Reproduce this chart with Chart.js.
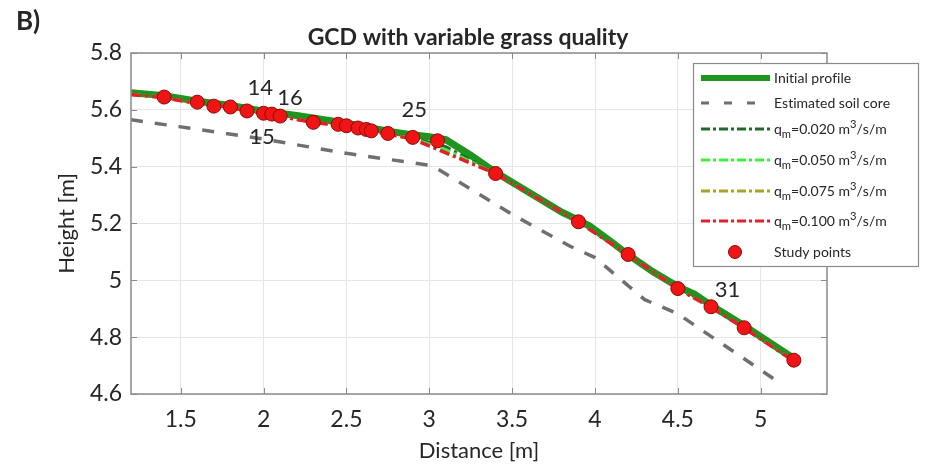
<!DOCTYPE html>
<html lang="en">
<head>
    <meta charset="UTF-8">
    <title>GCD with variable grass quality</title>
    <script src="https://cdn.jsdelivr.net/npm/chart.js@4.4.3/dist/chart.umd.min.js"></script>
    <style>
        body { margin: 0; background: #ffffff; }
        #wrap { width: 926px; height: 467px; }
    </style>
</head>
<body>
    <div id="wrap"><canvas id="profileChart" width="926" height="467"></canvas></div>
    <script>
        // axis ticks
        const xTicks = [1.5, 2, 2.5, 3, 3.5, 4, 4.5, 5];
        const yTicks = [4.6, 4.8, 5, 5.2, 5.4, 5.6, 5.8];

        // initial profile (green)
        const initX = [1.2, 1.4, 1.6, 1.8, 2.0, 2.2, 2.5, 2.75, 2.9, 3.0, 3.1, 3.25, 3.4, 3.6, 3.8, 3.9, 3.97, 4.1, 4.2, 4.35, 4.5, 4.6, 4.7, 4.9, 5.2];
        const initY = [5.66, 5.65, 5.63, 5.615, 5.595, 5.58, 5.553, 5.525, 5.512, 5.505, 5.495, 5.44, 5.38, 5.31, 5.24, 5.212, 5.19, 5.135, 5.09, 5.03, 4.978, 4.952, 4.912, 4.84, 4.725];

        // estimated soil core (grey dashed)
        const soilX = [1.2, 1.5, 2.0, 2.5, 3.0, 3.05, 3.5, 3.85, 4.0, 4.3, 4.5, 5.1];
        const soilY = [5.565, 5.54, 5.497, 5.447, 5.405, 5.392, 5.232, 5.12, 5.08, 4.932, 4.882, 4.645];

        // modelled profiles for each overtopping discharge
        const q020X = [1.2, 1.4, 1.6, 1.8, 2.0, 2.1, 2.3, 2.5, 2.75, 2.9, 3.1, 3.4, 3.9, 4.2, 4.5, 4.7, 4.9, 5.2];
        const q020Y = [5.657, 5.645, 5.624, 5.61, 5.588, 5.578, 5.556, 5.544, 5.516, 5.502, 5.47, 5.377, 5.207, 5.091, 4.972, 4.907, 4.833, 4.718];
        const q050X = [1.2, 1.4, 1.6, 1.8, 2.0, 2.1, 2.3, 2.5, 2.75, 2.9, 3.1, 3.4, 3.9, 4.2, 4.5, 4.7, 4.9, 5.2];
        const q050Y = [5.656, 5.644, 5.623, 5.609, 5.587, 5.578, 5.556, 5.543, 5.515, 5.5, 5.46, 5.376, 5.206, 5.09, 4.971, 4.906, 4.832, 4.717];
        const q075X = [1.2, 1.4, 1.6, 1.8, 2.0, 2.1, 2.3, 2.5, 2.75, 2.9, 3.1, 3.4, 3.9, 4.2, 4.5, 4.7, 4.9, 5.2];
        const q075Y = [5.655, 5.643, 5.622, 5.608, 5.586, 5.577, 5.555, 5.543, 5.515, 5.498, 5.45, 5.376, 5.205, 5.09, 4.97, 4.905, 4.832, 4.716];
        const q100X = [1.2, 1.4, 1.6, 1.8, 2.0, 2.1, 2.3, 2.5, 2.75, 2.9, 3.4, 3.9, 4.2, 4.5, 4.7, 4.9, 5.2];
        const q100Y = [5.654, 5.643, 5.622, 5.608, 5.586, 5.577, 5.555, 5.543, 5.515, 5.497, 5.376, 5.205, 5.09, 4.97, 4.905, 4.832, 4.716];

        // study points
        const studyX = [1.4, 1.6, 1.7, 1.8, 1.9, 2.0, 2.05, 2.1, 2.3, 2.45, 2.5, 2.57, 2.62, 2.65, 2.75, 2.9, 3.05, 3.4, 3.9, 4.2, 4.5, 4.7, 4.9, 5.2];
        const studyY = [5.645, 5.627, 5.613, 5.61, 5.596, 5.588, 5.585, 5.578, 5.556, 5.549, 5.544, 5.536, 5.531, 5.526, 5.517, 5.503, 5.491, 5.376, 5.206, 5.091, 4.971, 4.907, 4.833, 4.719];

        // point numbers written on the plot
        const noteText = ['14', '15', '16', '25', '31'];
        const noteX = [1.98, 1.99, 2.16, 2.91, 4.8];
        const noteY = [5.677, 5.504, 5.642, 5.6, 4.965];

        const pts = (xs, ys) => xs.map((x, i) => ({ x: x, y: ys[i] }));
        const FONT = 'Lato, "Open Sans", sans-serif';
        const TXT = '#262626';

        // draws text with _x subscripts and ^x superscripts
        const drawRich = (ctx, text, x, y, size) => {
            let cx = x;
            for (let i = 0; i < text.length; i++) {
                let ch = text[i];
                let dy = 0;
                let s = size;
                if ((ch === '_' || ch === '^') && i + 1 < text.length) {
                    dy = ch === '_' ? size * 0.38 : -size * 0.32;
                    s = size * 0.8;
                    i++;
                    ch = text[i];
                }
                ctx.font = s + 'px ' + FONT;
                ctx.fillText(ch, cx, y + dy);
                cx += ctx.measureText(ch).width;
            }
        };

        const overlay = {
            id: 'overlay',
            afterDatasetsDraw(chart) {
                const ctx = chart.ctx;
                const a = chart.chartArea;
                const xs = chart.scales.x;
                const ys = chart.scales.y;
                ctx.save();

                // axes box and inward tick marks
                ctx.strokeStyle = '#8a8a8a';
                ctx.lineWidth = 1.5;
                ctx.strokeRect(a.left, a.top, a.right - a.left, a.bottom - a.top);
                ctx.lineWidth = 1;
                ctx.beginPath();
                xTicks.forEach(v => {
                    const px = Math.round(xs.getPixelForValue(v)) + 0.5;
                    ctx.moveTo(px, a.bottom); ctx.lineTo(px, a.bottom - 6);
                    ctx.moveTo(px, a.top); ctx.lineTo(px, a.top + 6);
                });
                yTicks.forEach(v => {
                    const py = Math.round(ys.getPixelForValue(v)) + 0.5;
                    ctx.moveTo(a.left, py); ctx.lineTo(a.left + 6, py);
                    ctx.moveTo(a.right, py); ctx.lineTo(a.right - 6, py);
                });
                ctx.stroke();

                // point numbers
                ctx.fillStyle = TXT;
                ctx.font = '22px ' + FONT;
                ctx.textAlign = 'center';
                ctx.textBaseline = 'middle';
                noteText.forEach((t, i) => {
                    ctx.fillText(t, xs.getPixelForValue(noteX[i]), ys.getPixelForValue(noteY[i]));
                });

                // titles
                ctx.font = 'bold 23px ' + FONT;
                ctx.fillText('GCD with variable grass quality', 468, 38);
                ctx.textAlign = 'left';
                ctx.font = 'bold 26px ' + FONT;
                ctx.fillText('B)', 16, 22);

                // legend
                const bx = 693, by = 63, bw = 226, bh = 204;
                ctx.fillStyle = '#ffffff';
                ctx.fillRect(bx, by, bw, bh);
                ctx.strokeStyle = '#8a8a8a';
                ctx.lineWidth = 1.2;
                ctx.strokeRect(bx + 0.5, by + 0.5, bw - 1, bh - 1);
                const rows = [78, 103, 129, 160, 191, 221, 252];
                const legendOrder = [0, 1, 2, 3, 4, 5, 6];
                legendOrder.forEach((di, r) => {
                    const ds = chart.data.datasets[di];
                    const y = rows[r];
                    if (ds.showLine === false) {
                        ctx.beginPath();
                        ctx.arc(735, y, 6.5, 0, Math.PI * 2);
                        ctx.fillStyle = ds.pointBackgroundColor;
                        ctx.fill();
                        ctx.strokeStyle = ds.pointBorderColor;
                        ctx.lineWidth = 1;
                        ctx.stroke();
                    } else {
                        ctx.beginPath();
                        ctx.setLineDash(ds.legendDash || []);
                        ctx.strokeStyle = ds.borderColor;
                        ctx.lineWidth = ds.legendWidth;
                        ctx.moveTo(701, y);
                        ctx.lineTo(770, y);
                        ctx.stroke();
                        ctx.setLineDash([]);
                    }
                    ctx.fillStyle = TXT;
                    ctx.textBaseline = 'middle';
                    drawRich(ctx, ds.label, 774, y, 14);
                });
                ctx.restore();
            }
        };

        const ctx = document.getElementById('profileChart').getContext('2d');
        new Chart(ctx, {
            type: 'line',
            data: {
                datasets: [
                    {
                        label: 'Initial profile', data: pts(initX, initY),
                        borderColor: '#1f941f', borderWidth: 7, pointRadius: 0,
                        legendWidth: 6, order: 5
                    },
                    {
                        label: 'Estimated soil core', data: pts(soilX, soilY),
                        borderColor: '#6f6f6f', borderWidth: 3.5, borderDash: [12, 12], pointRadius: 0,
                        legendWidth: 3, legendDash: [8, 15], order: 6
                    },
                    {
                        label: 'q_m=0.020 m^3/s/m', data: pts(q020X, q020Y),
                        borderColor: '#1f6a2a', borderWidth: 3, borderDash: [10, 4, 3, 4], pointRadius: 0,
                        legendWidth: 3, legendDash: [9, 3, 3, 3], order: 4
                    },
                    {
                        label: 'q_m=0.050 m^3/s/m', data: pts(q050X, q050Y),
                        borderColor: '#3df03d', borderWidth: 3, borderDash: [10, 4, 3, 4], pointRadius: 0,
                        legendWidth: 3, legendDash: [9, 3, 3, 3], order: 3
                    },
                    {
                        label: 'q_m=0.075 m^3/s/m', data: pts(q075X, q075Y),
                        borderColor: '#aaa12c', borderWidth: 3, borderDash: [10, 4, 3, 4], pointRadius: 0,
                        legendWidth: 3, legendDash: [9, 3, 3, 3], order: 2
                    },
                    {
                        label: 'q_m=0.100 m^3/s/m', data: pts(q100X, q100Y),
                        borderColor: '#e3202a', borderWidth: 3.5, borderDash: [10, 4, 3, 4], pointRadius: 0,
                        legendWidth: 3, legendDash: [9, 3, 3, 3], order: 1
                    },
                    {
                        label: 'Study points', data: pts(studyX, studyY),
                        showLine: false, pointRadius: 7, pointBorderWidth: 1,
                        pointBackgroundColor: '#f01414', pointBorderColor: '#8a0a0a', order: 0
                    }
                ]
            },
            options: {
                responsive: false,
                animation: false,
                devicePixelRatio: 1,
                layout: { padding: { left: 40, right: 99, top: 53, bottom: 3 } },
                plugins: {
                    legend: { display: false },
                    tooltip: { enabled: false }
                },
                scales: {
                    x: {
                        type: 'linear', min: 1.2, max: 5.4,
                        afterBuildTicks: s => { s.ticks = xTicks.map(v => ({ value: v })); },
                        afterFit: s => { s.height = 70; },
                        ticks: { color: TXT, padding: 12, font: { family: FONT, size: 23 }, callback: v => String(v) },
                        grid: { color: '#e6e6e6', drawTicks: false },
                        border: { display: false },
                        title: { display: true, text: 'Distance [m]', color: TXT, padding: { top: 0, bottom: 0 }, font: { family: FONT, size: 22 } }
                    },
                    y: {
                        min: 4.6, max: 5.8,
                        afterBuildTicks: s => { s.ticks = yTicks.map(v => ({ value: v })); },
                        afterFit: s => { s.width = 91; },
                        ticks: { color: TXT, padding: 9, font: { family: FONT, size: 23 }, callback: v => String(v) },
                        grid: { color: '#e6e6e6', drawTicks: false },
                        border: { display: false },
                        title: { display: true, text: 'Height [m]', color: TXT, padding: { top: 14, bottom: 0 }, font: { family: FONT, size: 22 } }
                    }
                }
            },
            plugins: [overlay]
        });
    </script>
</body>
</html>
